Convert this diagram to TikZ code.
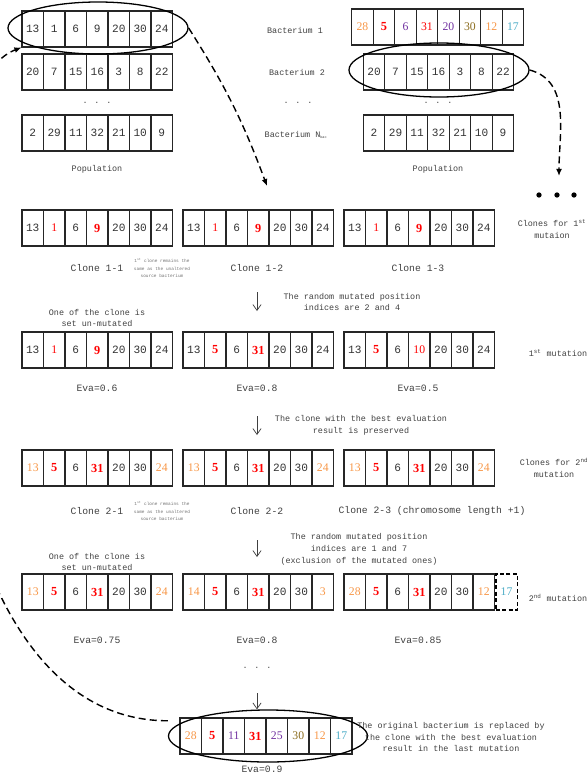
\documentclass[tikz,border=0pt]{standalone}
\usepackage{fontspec}
\setmainfont{Liberation Mono}
\newfontfamily\numfont{Liberation Serif}
\usetikzlibrary{arrows.meta, shapes.geometric, positioning}
\definecolor{morange}{HTML}{F79646}
\definecolor{mpurple}{HTML}{7030A0}
\definecolor{molive}{HTML}{8C6D1F}
\definecolor{maqua}{HTML}{4BACC6}
\definecolor{mred}{HTML}{FF0000}
\definecolor{mtext}{HTML}{404040}

\begin{document}
\begin{tikzpicture}[
        x=0.03cm, y=-0.03cm,
        cell/.style = {draw=black!85, rectangle, minimum width=0.645cm, minimum height=1.08cm, inner sep=0pt, line width=0.9pt, font=\fontsize{9.5}{11}\selectfont, text=black!80},
        pl/.style = {},
        or/.style = {text=morange, font=\numfont\fontsize{10}{11}\selectfont},
        rd/.style = {text=mred, font=\numfont\fontsize{10}{11}\selectfont},
        rb/.style = {text=mred, font=\numfont\bfseries\fontsize{10.5}{11}\selectfont},
        pu/.style = {text=mpurple, font=\numfont\fontsize{10}{11}\selectfont},
        ol/.style = {text=molive, font=\numfont\fontsize{10}{11}\selectfont},
        aq/.style = {text=maqua, font=\numfont\fontsize{10}{11}\selectfont},
        sel/.style = {draw=black, ellipse, line width=1.1pt, inner sep=0pt},
        lbl/.style = {font=\fontsize{7.2}{10.2}\selectfont, text=mtext, align=center},
        cname/.style = {font=\fontsize{8.3}{10}\selectfont, text=mtext},
        note/.style = {font=\fontsize{3.8}{6.4}\selectfont, text=black!55, align=center},
        dasharrow/.style = {draw=black, line width=1.2pt, dash pattern=on 6pt off 3.5pt, -{Latex[length=6pt, width=5pt]}},
        down/.style = {draw=black!75, line width=0.6pt, -{Straight Barb[length=5pt, width=7pt]}}
    ]
        \useasboundingbox (0,0) rectangle (587,781);

        % Population (left)
        \foreach \v/\s [count=\i] in {13/pl,1/pl,6/pl,9/pl,20/pl,30/pl,24/pl}
            \node[cell, \s] (popA\i) at ({22+21.5*(\i-0.5)}, 29) {\v};
        \foreach \v/\s [count=\i] in {20/pl,7/pl,15/pl,16/pl,3/pl,8/pl,22/pl}
            \node[cell, \s] (popB\i) at ({22+21.5*(\i-0.5)}, 72) {\v};
        \foreach \v/\s [count=\i] in {2/pl,29/pl,11/pl,32/pl,21/pl,10/pl,9/pl}
            \node[cell, \s] (popC\i) at ({22+21.5*(\i-0.5)}, 133) {\v};
        \node (popDots) [lbl] at (97,103) {. . .};
        \node (popName) [lbl] at (97,169) {Population};

        % Bacteria labels
        \node (bacNameA) [lbl] at (295,30) {Bacterium 1};
        \node (bacNameB) [lbl] at (297,72) {Bacterium 2};
        \node (bacNameDots) [lbl] at (298,103) {. . .};
        \node (bacNameC) [lbl] at (296,135) {Bacterium N\textsubscript{\fontsize{3}{3}\selectfont bac}};

        % Population (right)
        \foreach \v/\s [count=\i] in {28/or,5/rb,6/pu,31/rd,20/pu,30/ol,12/or,17/aq}
            \node[cell, \s] (bacA\i) at ({351.7+21.5*(\i-0.5)}, 27) {\v};
        \foreach \v/\s [count=\i] in {20/pl,7/pl,15/pl,16/pl,3/pl,8/pl,22/pl}
            \node[cell, \s] (bacB\i) at ({363.3+21.5*(\i-0.5)}, 72) {\v};
        \foreach \v/\s [count=\i] in {2/pl,29/pl,11/pl,32/pl,21/pl,10/pl,9/pl}
            \node[cell, \s] (bacC\i) at ({363.3+21.5*(\i-0.5)}, 133) {\v};
        \node (bacDots) [lbl] at (438,103) {. . .};
        \node (bacName) [lbl] at (438,169) {Population};

        % Selected bacteria
        \node (selA) [sel, minimum width=5.4cm, minimum height=1.56cm] at (98,28) {};
        \node (selB) [sel, minimum width=5.4cm, minimum height=1.62cm] at (439,70) {};

        % Clones for 1st mutation
        \foreach \v/\s [count=\i] in {13/pl,1/rd,6/pl,9/rb,20/pl,30/pl,24/pl}
            \node[cell, \s] (clA\i) at ({22+21.5*(\i-0.5)}, 228) {\v};
        \foreach \v/\s [count=\i] in {13/pl,1/rd,6/pl,9/rb,20/pl,30/pl,24/pl}
            \node[cell, \s] (clB\i) at ({183+21.5*(\i-0.5)}, 228) {\v};
        \foreach \v/\s [count=\i] in {13/pl,1/rd,6/pl,9/rb,20/pl,30/pl,24/pl}
            \node[cell, \s] (clC\i) at ({344+21.5*(\i-0.5)}, 228) {\v};
        \node (moreA) [circle, fill=black, inner sep=0pt, minimum size=4.5pt] at (539,195) {};
        \node (moreB) [circle, fill=black, inner sep=0pt, minimum size=4.5pt] at (557,195) {};
        \node (moreC) [circle, fill=black, inner sep=0pt, minimum size=4.5pt] at (574,195) {};
        \node (clSide) [lbl] at (552,229) {Clones for 1\textsuperscript{st}\\mutaion};
        \node (clNameA) [cname] at (97,268) {Clone 1-1};
        \node (clNote) [note] at (162,268) {1\textsuperscript{st} clone remains the\\same as the unaltered\\source bacterium};
        \node (clNameB) [cname] at (257,268) {Clone 1-2};
        \node (clNameC) [cname] at (418,268) {Clone 1-3};

        % 1st mutation
        \node (muText) [lbl] at (352,302) {The random mutated position\\indices are 2 and 4};
        \node (muKeep) [lbl] at (97,318) {One of the clone is\\set un-mutated};
        \foreach \v/\s [count=\i] in {13/pl,1/rd,6/pl,9/rb,20/pl,30/pl,24/pl}
            \node[cell, \s] (muA\i) at ({22+21.5*(\i-0.5)}, 350) {\v};
        \foreach \v/\s [count=\i] in {13/pl,5/rb,6/pl,31/rb,20/pl,30/pl,24/pl}
            \node[cell, \s] (muB\i) at ({183+21.5*(\i-0.5)}, 350) {\v};
        \foreach \v/\s [count=\i] in {13/pl,5/rb,6/pl,10/rd,20/pl,30/pl,24/pl}
            \node[cell, \s] (muC\i) at ({344+21.5*(\i-0.5)}, 350) {\v};
        \node (muSide) [lbl] at (558,353) {1\textsuperscript{st} mutation};
        \node (evaA) [cname] at (97,388) {Eva=0.6};
        \node (evaB) [cname] at (257,388) {Eva=0.8};
        \node (evaC) [cname] at (418,388) {Eva=0.5};

        % Clones for 2nd mutation
        \node (cmText) [lbl] at (361,425) {The clone with the best evaluation\\result is preserved};
        \foreach \v/\s [count=\i] in {13/or,5/rb,6/pl,31/rb,20/pl,30/pl,24/or}
            \node[cell, \s] (cmA\i) at ({22+21.5*(\i-0.5)}, 468) {\v};
        \foreach \v/\s [count=\i] in {13/or,5/rb,6/pl,31/rb,20/pl,30/pl,24/or}
            \node[cell, \s] (cmB\i) at ({183+21.5*(\i-0.5)}, 468) {\v};
        \foreach \v/\s [count=\i] in {13/or,5/rb,6/pl,31/rb,20/pl,30/pl,24/or}
            \node[cell, \s] (cmC\i) at ({344+21.5*(\i-0.5)}, 468) {\v};
        \node (cmSide) [lbl] at (554,468) {Clones for 2\textsuperscript{nd}\\mutation};
        \node (cmNameA) [cname] at (97,511) {Clone 2-1};
        \node (cmNote) [note] at (162,511) {1\textsuperscript{st} clone remains the\\same as the unaltered\\source bacterium};
        \node (cmNameB) [cname] at (257,511) {Clone 2-2};
        \node (cmNameC) [cname] at (432,511) {Clone 2-3 (chromosome length +1)};

        % 2nd mutation
        \node (mvText) [lbl] at (359,549) {The random mutated position\\indices are 1 and 7\\(exclusion of the mutated ones)};
        \node (mvKeep) [lbl] at (97,562) {One of the clone is\\set un-mutated};
        \foreach \v/\s [count=\i] in {13/or,5/rb,6/pl,31/rb,20/pl,30/pl,24/or}
            \node[cell, \s] (mvA\i) at ({22+21.5*(\i-0.5)}, 592) {\v};
        \foreach \v/\s [count=\i] in {14/or,5/rb,6/pl,31/rb,20/pl,30/pl,3/or}
            \node[cell, \s] (mvB\i) at ({183+21.5*(\i-0.5)}, 592) {\v};
        \foreach \v/\s [count=\i] in {28/or,5/rb,6/pl,31/rb,20/pl,30/pl,12/or}
            \node[cell, \s] (mvC\i) at ({344+21.5*(\i-0.5)}, 592) {\v};
        \node (mvC8) [cell, aq, draw=black, line width=1.4pt, dash pattern=on 3.5pt off 2pt, right=0pt of mvC7] {17};
        \node (mvSide) [lbl] at (558,598) {2\textsuperscript{nd} mutation};
        \node (evmA) [cname] at (97,640) {Eva=0.75};
        \node (evmB) [cname] at (257,640) {Eva=0.8};
        \node (evmC) [cname] at (418,640) {Eva=0.85};
        \node (finDots) [lbl] at (257,668) {. . .};

        % Final bacterium
        \foreach \v/\s [count=\i] in {28/or,5/rb,11/pu,31/rb,25/pu,30/ol,12/or,17/aq}
            \node[cell, \s] (fin\i) at ({180+21.5*(\i-0.5)}, 736) {\v};
        \node (selF) [sel, minimum width=5.97cm, minimum height=1.56cm] at (268,736) {};
        \node (evaF) [cname] at (262,769) {Eva=0.9};
        \node (finText) [lbl] at (451,737) {The original bacterium is replaced by\\the clone with the best evaluation\\result in the last mutation};

        % Arrows
        \coordinate (cloneIn) at (267,186);
        \coordinate (moreIn) at (559,176);
        \draw [dasharrow] (selA.east) to[bend left=6] (cloneIn);
        \draw [dasharrow] (selB.east) to[out=-15, in=90] (moreIn);
        \begin{scope}
            \clip (0,0) rectangle (587,781);
            \draw [dasharrow] ([yshift=13pt]selF.west) .. controls (-100,721) and (-100,93) .. (popA1.south west);
        \end{scope}

        \coordinate (stepA) at (257,292);
        \coordinate (stepB) at (257,416);
        \coordinate (stepC) at (257,540);
        \coordinate (stepD) at (257,693);
        \draw [down] (stepA) -- ++(0,19);
        \draw [down] (stepB) -- ++(0,19);
        \draw [down] (stepC) -- ++(0,17);
        \draw [down] (stepD) -- (stepD |- selF.north);

    \end{tikzpicture}
\end{document}
